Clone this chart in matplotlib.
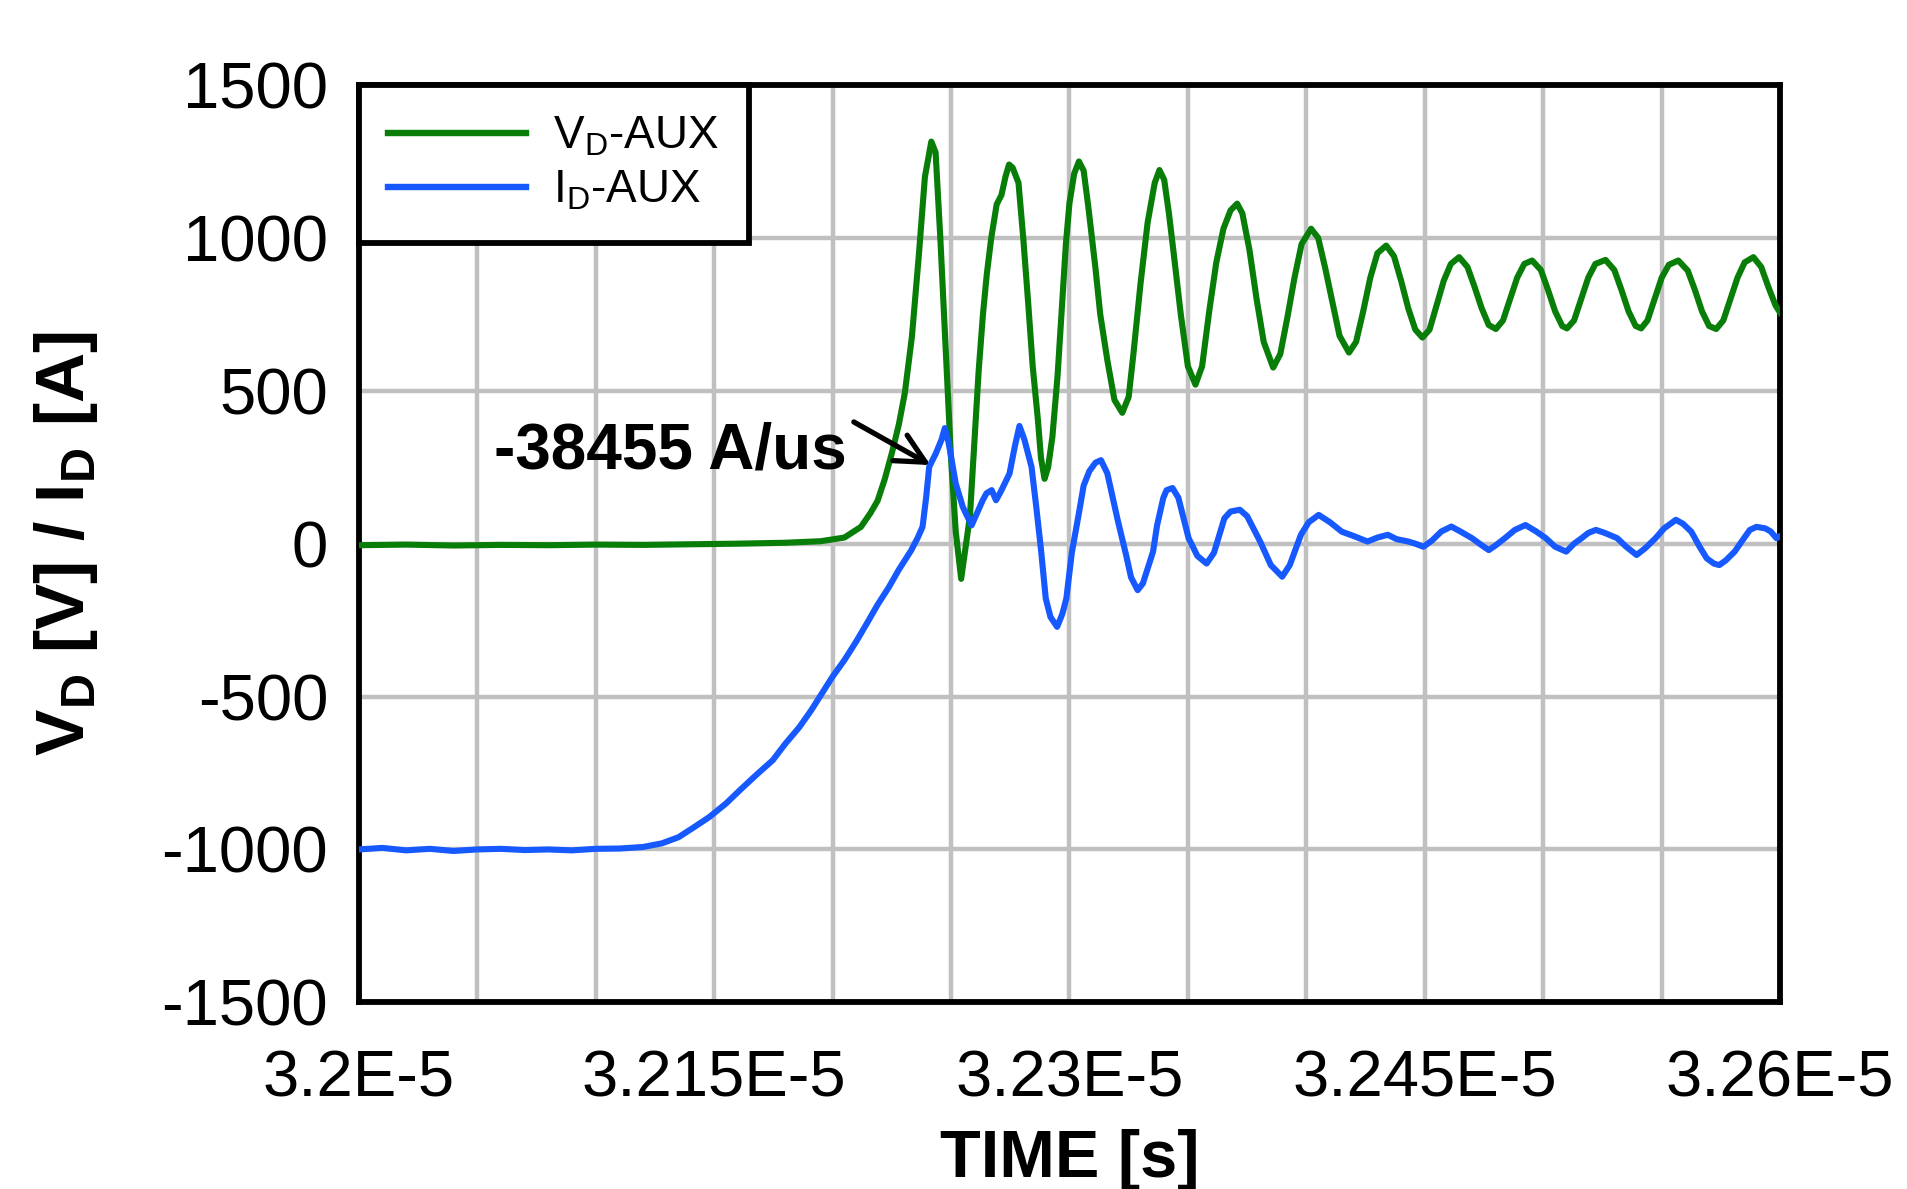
import numpy as np
import matplotlib
matplotlib.use("Agg")
import matplotlib.pyplot as plt
from matplotlib.ticker import MultipleLocator, FuncFormatter

plt.rcParams['font.family'] = ['Liberation Sans', 'DejaVu Sans']
plt.rcParams['mathtext.fontset'] = 'custom'
plt.rcParams['mathtext.rm'] = 'Liberation Sans'
plt.rcParams['mathtext.bf'] = 'Liberation Sans:bold'
plt.rcParams['axes.unicode_minus'] = False

# time in ns after 3.2E-5 s
t_vd = [0, 20, 40, 60, 80, 100, 120, 140, 160, 180, 195, 205, 212, 216, 219, 222, 225, 228,
        230.5, 233.5, 236.5, 239, 241.7, 243.5, 245.5, 247, 249.9, 252, 254.3, 256, 258, 260,
        261.7, 263.5, 265.1, 267, 269.3, 271.3, 273, 274.5, 276, 278.5, 280.5, 282.6, 284.5,
        286.7, 288, 289.5, 291, 292.8, 295, 296.9, 298.5, 300, 302, 304, 306, 308, 311, 313,
        316, 319, 322.3, 325, 327, 330, 333, 336, 338, 340, 342, 344, 347, 350, 353.2, 356,
        359, 362, 365, 368, 370.8, 373, 376, 379, 382, 386, 389, 392, 395, 398, 402, 405, 408,
        411, 414, 418, 421, 424, 427, 430, 433.7, 437, 440, 443, 446, 449, 452, 455, 458, 461,
        464.5, 468, 471, 474, 477, 480, 483, 486, 489, 492, 495.3, 499, 502, 505, 508, 510,
        513, 516, 519, 522, 526.3, 530, 533, 536, 539, 541.3, 544, 547, 550, 553, 557, 561,
        564, 567, 570, 573, 576, 579, 582, 585, 588.7, 592, 595, 598, 600]
vd = [-5, -3, -6, -4, -5, -3, -4, -2, 0, 3, 8, 20, 55, 100, 140, 210, 295, 390,
      492, 676, 950, 1200, 1315, 1280, 1000, 760, 295, 40, -115, -20, 90, 350,
      567, 750, 880, 1000, 1110, 1140, 1200, 1240, 1230, 1180, 1000, 786, 580,
      404, 280, 212, 250, 349, 550, 786, 980, 1113, 1210, 1250, 1220, 1100, 900, 750,
      600, 470, 428, 480, 620, 850, 1050, 1180, 1222, 1190, 1080, 950, 750, 580, 520, 580,
      760, 920, 1030, 1090, 1112, 1080, 960, 800, 660, 576, 620, 740, 870, 980, 1030, 1000, 900,
      790, 680, 625, 660, 760, 870, 950, 975, 940, 860, 770, 700, 674, 700, 780, 860, 915,
      937, 905, 840, 770, 715, 702, 730, 800, 870, 915, 926, 895, 830, 760, 712, 704,
      730, 800, 870, 915, 928, 895, 830, 760, 712, 704, 730, 800, 870, 912, 926, 893,
      830, 760, 712, 702, 730, 800, 870, 920, 937, 905, 840, 780, 755]

t_id = [0, 10, 20, 30, 40, 50, 60, 70, 80, 90, 100, 110, 120, 128, 135, 141, 148, 155,
        161.6, 168, 174.8, 180, 186, 191, 195.5, 200, 205, 210, 214.4, 219, 223.8, 228,
        233.2, 236, 238, 239.5, 240.8, 243.6, 246, 247.4, 249, 252, 255, 258.7, 261, 263.4,
        265, 267.2, 269, 271, 274.7, 277, 278.9, 281, 284, 286, 288, 290, 292, 294.8, 297,
        298.7, 301, 304, 306, 308.4, 311, 313.3, 316, 320.2, 324, 326, 328.8, 331, 335.3,
        337, 339.6, 341, 343.5, 346, 350.3, 354, 357.9, 361, 365.4, 368, 371.9, 375, 380.5,
        385, 389.8, 393, 397.7, 401, 405.2, 410, 415, 420, 425.8, 430, 434.4, 438, 443, 446,
        449.4, 453, 457, 461.2, 465, 469.9, 474, 477, 480, 483.8, 488, 492.5, 497, 501.1,
        505, 509.7, 513, 516.2, 519, 522.2, 526, 531.2, 535, 539.4, 543, 547.4, 551, 556,
        559, 562.5, 566, 569, 572, 574.3, 577, 580.8, 584, 587.2, 590, 593.7, 596, 598.4, 600]
i_d = [-1000, -995, -1003, -998, -1005, -1000, -998, -1002, -1000, -1003, -998, -997, -992,
       -980, -960, -930, -894, -850, -801, -755, -708, -655, -600, -545, -490, -435, -381,
       -320, -262, -200, -142, -85, -22, 20, 55, 150, 251, 295, 340, 378, 330, 197, 120, 60,
       100, 142, 165, 175, 142, 170, 229, 320, 385, 340, 251, 120, -20, -179, -240, -272,
       -230, -179, -30, 100, 190, 237, 265, 273, 230, 83, -40, -110, -152, -130, -26, 60,
       149, 175, 182, 150, 18, -40, -65, -30, 83, 105, 111, 90, 7, -70, -108, -70, 29, 70,
       94, 70, 39, 25, 7, 20, 29, 15, 7, 0, -10, 10, 40, 56, 40, 18, -5, -21, -5, 18, 45,
       61, 40, 18, -10, -26, 0, 18, 35, 45, 35, 18, -10, -37, -15, 18, 50, 78, 65, 39, -10,
       -48, -65, -70, -55, -26, 10, 45, 55, 50, 40, 18, 25]

t0_ns = 32000
yticks = [-1500, -1000, -500, 0, 500, 1000, 1500]

fig = plt.figure(figsize=(19.08, 11.89), dpi=100)
ax = fig.add_axes([0.188, 0.157, 0.745, 0.7715])

ax.plot(t0_ns + np.array(t_vd), vd, color='#087d08', lw=4.4, label=r'V$_\mathregular{D}$-AUX',
        zorder=3, solid_joinstyle='round')
ax.plot(t0_ns + np.array(t_id), i_d, color='#1659ff', lw=4.4, label=r'I$_\mathregular{D}$-AUX',
        zorder=4, solid_joinstyle='round')

ax.set_xlim(32000, 32600)
ax.set_ylim(-1500, 1500)
ax.set_yticks(yticks)
ax.xaxis.set_major_locator(MultipleLocator(50))


def fmt_x(x, pos):
    x = int(round(x))
    if (x - 32000) % 150 == 0:
        return f"{x / 1e4:g}E-5"
    return ""


ax.xaxis.set_major_formatter(FuncFormatter(fmt_x))
ax.tick_params(axis='both', length=0, labelsize=47)
ax.tick_params(axis='y', pad=22)
ax.tick_params(axis='x', pad=34)
ax.grid(True, color='#c0c0c0', lw=3.2)
ax.set_axisbelow(True)
for sp in ax.spines.values():
    sp.set_linewidth(4.2)
    sp.set_color('black')

ax.set_xlabel('TIME [s]', fontsize=48, fontweight='bold')
ax.xaxis.set_label_coords(0.5, -0.138)
ax.set_ylabel(r'V$_\mathbf{D}$ [V] / I$_\mathbf{D}$ [A]', fontsize=50, fontweight='bold')
ax.yaxis.set_label_coords(-0.182, 0.5)

ax.text(32057, 245, '-38455 A/us', fontsize=46, fontweight='bold', ha='left', va='baseline', zorder=6)
ax.annotate('', xy=(32241.4, 257), xytext=(32209, 398),
            arrowprops=dict(arrowstyle='->,head_length=0.7,head_width=0.35', lw=3.8,
                            color='black', mutation_scale=30, shrinkA=0, shrinkB=0), zorder=6)

leg = ax.legend(loc='upper left', bbox_to_anchor=(0, 1), borderaxespad=0, fontsize=33,
                fancybox=False, framealpha=1, edgecolor='black', handlelength=3.0,
                handletextpad=0.6, labelspacing=0.22, borderpad=0.65)
leg.get_frame().set_linewidth(4.2)
for ln in leg.get_lines():
    ln.set_linewidth(4.6)

fig.savefig('out.png', dpi=100, facecolor='white')
